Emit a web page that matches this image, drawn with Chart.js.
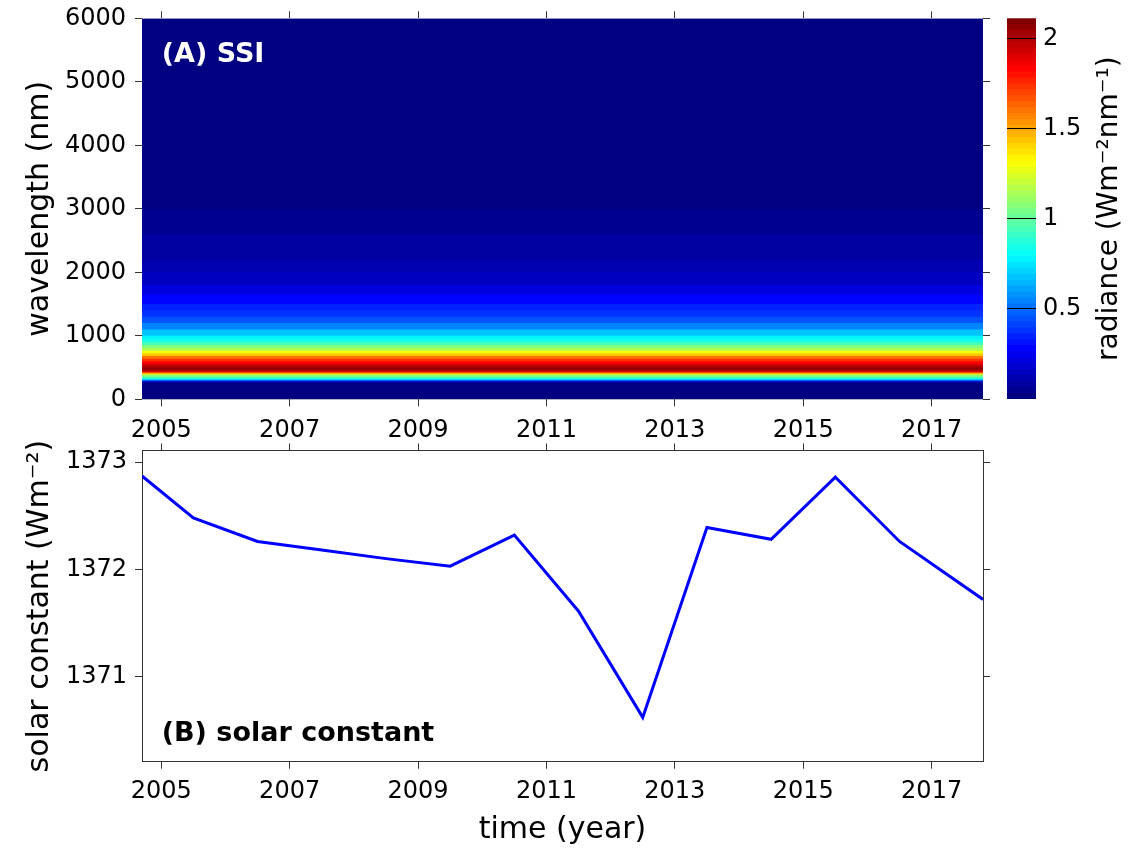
<!DOCTYPE html>
<html>
<head>
<meta charset="utf-8">
<title>SSI and solar constant</title>
<script src="https://cdn.jsdelivr.net/npm/chart.js@4.4.0/dist/chart.umd.min.js"></script>
<style>
    html, body { margin: 0; padding: 0; background: #fff; }
    #page { position: relative; width: 1132px; height: 855px; overflow: hidden; }
    canvas { position: absolute; }
    #ssiChart { left: 0; top: 0; }
    #colorbar { left: 1000px; top: 0; }
    #scChart { left: 0; top: 440px; }
</style>
</head>
<body>
<div id="page">
    <canvas id="ssiChart" width="1000" height="445"></canvas>
    <canvas id="colorbar" width="132" height="420"></canvas>
    <canvas id="scChart" width="1000" height="415"></canvas>
</div>
<script>
// Time axis (years)
const timeRange = [2004.7, 2017.8];
const yearTicks = [2005, 2007, 2009, 2011, 2013, 2015, 2017];

// (A) SSI - upper edge of each wavelength band (nm) and its radiance (W m-2 nm-1)
const bandTopNm = [260, 280, 295, 310, 330, 350, 370, 390, 405, 425,
                   440, 470, 500, 530, 560, 600, 640, 680, 720, 760,
                   800, 850, 900, 950, 1000, 1100, 1200, 1300, 1400, 1500,
                   1650, 1800, 2000, 2200, 2400, 2600, 2800, 3000, 3500, 4000,
                   5000, 6000];
const bandRadiance = [0.02, 0.12, 0.35, 0.6, 0.8, 0.95, 1.05, 1.12, 1.35, 1.62,
                      1.85, 2.02, 2.05, 1.98, 1.92, 1.84, 1.74, 1.6, 1.45, 1.3,
                      1.18, 1.07, 0.95, 0.85, 0.77, 0.66, 0.55, 0.46, 0.39, 0.33,
                      0.27, 0.21, 0.16, 0.12, 0.09, 0.07, 0.055, 0.04, 0.03, 0.018,
                      0.01, 0.005];
const wavelengthTicks = [0, 1000, 2000, 3000, 4000, 5000, 6000];

// Colour bar
const radianceMax = 2.111;
const radianceTicks = [0.5, 1, 1.5, 2];

// (B) solar constant (W m-2)
const scYears = [2004.7, 2005.5, 2006.5, 2007.5, 2008.5, 2009.5, 2010.5,
                 2011.5, 2012.5, 2013.5, 2014.5, 2015.5, 2016.5, 2017.8];
const scValues = [1372.87, 1372.48, 1372.26, 1372.18, 1372.10, 1372.03, 1372.32,
                  1371.61, 1370.62, 1372.39, 1372.28, 1372.86, 1372.26, 1371.72];
const scRange = [1370.207, 1373.108];
const scTicks = [1371, 1372, 1373];

const FONT = '"DejaVu Sans", "Liberation Sans", sans-serif';
const TICK_COLOR = '#333';
const N_LEVELS = 64;

Chart.defaults.font.family = FONT;
Chart.defaults.color = '#000';

// MATLAB-like jet colormap with 64 levels
function jetLevel(idx) {
    const t = idx / (N_LEVELS - 1);
    const clamp = v => Math.max(0, Math.min(1, v));
    const r = clamp(Math.min(4 * t - 1.5, -4 * t + 4.5));
    const g = clamp(Math.min(4 * t - 0.5, -4 * t + 3.5));
    const b = clamp(Math.min(4 * t + 0.5, -4 * t + 2.5));
    return `rgb(${Math.round(r * 255)}, ${Math.round(g * 255)}, ${Math.round(b * 255)})`;
}

function jetColor(value) {
    const idx = Math.min(N_LEVELS - 1, Math.max(0, Math.floor(value / radianceMax * N_LEVELS)));
    return jetLevel(idx);
}

const setTicks = values => scale => { scale.ticks = values.map(v => ({ value: v })); };

// force the axis box size and drop the extra room Chart.js keeps for edge labels
function fixSize(size, horizontal) {
    return scale => {
        if (horizontal) scale.height = size;
        else scale.width = size;
        scale.paddingTop = 0;
        scale.paddingBottom = 0;
        scale.paddingLeft = 0;
        scale.paddingRight = 0;
    };
}

// axis that only carries outward tick marks (box on all four sides)
function mirrorAxis(position, range, ticks, size, showBorder) {
    const horizontal = position === 'top' || position === 'bottom';
    return {
        type: 'linear',
        position: position,
        min: range[0],
        max: range[1],
        afterBuildTicks: setTicks(ticks),
        afterFit: fixSize(size, horizontal),
        ticks: { display: false },
        grid: { drawOnChartArea: false, drawTicks: true, tickLength: 7, color: TICK_COLOR },
        border: { display: showBorder, color: TICK_COLOR }
    };
}

function labelAxis(position, range, ticks, size, padding, title, showBorder) {
    const horizontal = position === 'bottom';
    return {
        type: 'linear',
        position: position,
        min: range[0],
        max: range[1],
        afterBuildTicks: setTicks(ticks),
        afterFit: fixSize(size, horizontal),
        ticks: {
            font: { size: 24 },
            color: '#000',
            padding: padding,
            maxRotation: 0,
            autoSkip: false,
            callback: v => String(v)
        },
        grid: { drawOnChartArea: false, drawTicks: true, tickLength: 7, color: TICK_COLOR },
        border: { display: showBorder, color: TICK_COLOR },
        title: title
    };
}

function panelLabel(text, color, dx, baseline) {
    return {
        id: 'panelLabel',
        afterDraw(chart) {
            const { ctx, chartArea } = chart;
            ctx.save();
            ctx.font = `bold 27px ${FONT}`;
            ctx.fillStyle = color;
            ctx.textBaseline = 'alphabetic';
            const y = baseline >= 0 ? chartArea.top + baseline : chartArea.bottom + baseline;
            ctx.fillText(text, chartArea.left + dx, y);
            ctx.restore();
        }
    };
}

// ---- (A) SSI heat map: one filled band per wavelength interval ----
const ssiDatasets = bandTopNm.map((top, i) => ({
    data: timeRange.map(t => ({ x: t, y: top })),
    fill: 'origin',
    backgroundColor: jetColor(bandRadiance[i]),
    borderColor: 'rgba(0,0,0,0)',
    borderWidth: 0,
    pointRadius: 0
}));

new Chart(document.getElementById('ssiChart'), {
    type: 'line',
    data: { datasets: ssiDatasets },
    options: {
        responsive: false,
        animation: false,
        layout: { padding: 0 },
        plugins: { legend: { display: false }, tooltip: { enabled: false } },
        scales: {
            x: labelAxis('bottom', timeRange, yearTicks, 45.7, 10, { display: false }, false),
            xTop: mirrorAxis('top', timeRange, yearTicks, 18.3, false),
            y: labelAxis('left', [0, 6000], wavelengthTicks, 142, 9, {
                display: true,
                text: 'wavelength (nm)',
                font: { size: 30 },
                padding: { top: 22, bottom: 0 }
            }, false),
            yRight: mirrorAxis('right', [0, 6000], wavelengthTicks, 17, false)
        }
    },
    plugins: [panelLabel('(A) SSI', '#fff', 19.7, 43.4)]
});

// ---- colour bar ----
const levelIndex = Array.from({ length: N_LEVELS }, (_, i) => i);

new Chart(document.getElementById('colorbar'), {
    type: 'bar',
    data: {
        labels: [''],
        datasets: levelIndex.map(i => ({
            data: [[0, (i + 1) * radianceMax / N_LEVELS]],
            backgroundColor: jetLevel(i),
            borderWidth: 0,
            grouped: false,
            barPercentage: 1,
            categoryPercentage: 1
        }))
    },
    options: {
        responsive: false,
        animation: false,
        layout: { padding: { left: 7, top: 18.3, bottom: 21, right: 0 } },
        plugins: { legend: { display: false }, tooltip: { enabled: false } },
        scales: {
            x: { display: false },
            y: {
                position: 'right',
                min: 0,
                max: radianceMax,
                afterBuildTicks: setTicks(radianceTicks),
                afterFit: fixSize(96, false),
                ticks: { font: { size: 24 }, color: '#000', padding: 7, callback: v => String(v) },
                grid: { drawOnChartArea: true, drawTicks: false, color: '#000', lineWidth: 1, z: 1 },
                border: { display: false }
            }
        }
    },
    plugins: [{
        id: 'colorbarTitle',
        afterDraw(chart) {
            const { ctx, chartArea } = chart;
            ctx.save();
            ctx.translate(110, (chartArea.top + chartArea.bottom) / 2);
            ctx.rotate(-Math.PI / 2);
            ctx.font = `28px ${FONT}`;
            ctx.fillStyle = '#000';
            ctx.textAlign = 'center';
            ctx.textBaseline = 'middle';
            ctx.fillText('radiance (Wm\u207B\u00B2nm\u207B\u00B9)', 0, 0);
            ctx.restore();
        }
    }]
});

// ---- (B) solar constant ----
new Chart(document.getElementById('scChart'), {
    type: 'line',
    data: {
        datasets: [{
            data: scYears.map((yr, i) => ({ x: yr, y: scValues[i] })),
            borderColor: '#0000ff',
            borderWidth: 3,
            pointRadius: 0,
            fill: false,
            tension: 0
        }]
    },
    options: {
        responsive: false,
        animation: false,
        layout: { padding: 0 },
        plugins: { legend: { display: false }, tooltip: { enabled: false } },
        scales: {
            x: labelAxis('bottom', timeRange, yearTicks, 93.3, 9, {
                display: true,
                text: 'time (year)',
                font: { size: 30 },
                padding: { top: 0, bottom: 7 }
            }, true),
            xTop: mirrorAxis('top', timeRange, yearTicks, 10.5, true),
            y: labelAxis('left', scRange, scTicks, 142, 8, {
                display: true,
                text: 'solar constant (Wm\u207B\u00B2)',
                font: { size: 30 },
                padding: { top: 22, bottom: 0 }
            }, true),
            yRight: mirrorAxis('right', scRange, scTicks, 17, true)
        }
    },
    plugins: [panelLabel('(B) solar constant', '#000', 19.7, -20.7)]
});
</script>
</body>
</html>
